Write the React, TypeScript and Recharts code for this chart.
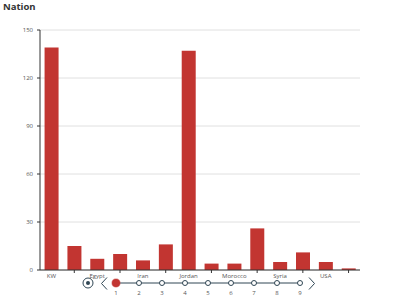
import React from 'react';
import { BarChart, Bar, XAxis, YAxis, CartesianGrid, LineChart, Line } from 'recharts';

const categories = ['KW', 'Bahrain', 'Egypt', 'France', 'Iran', 'Iraq', 'Jordan', 'Lebanon', 'Morocco', 'Palestine', 'Syria', 'Tunisia', 'USA', 'Yemen'];
const values = [139, 15, 7, 10, 6, 16, 137, 4, 4, 26, 5, 11, 5, 1];
const yTicks = [0, 30, 60, 90, 120, 150];
const timelineLabels = ['1', '2', '3', '4', '5', '6', '7', '8', '9'];
const currentTimelineIndex = 0;

const barData = categories.map((name, i) => ({ name, value: values[i] }));
const timelineData = timelineLabels.map((label) => ({ label, v: 0.5 }));

const FONT = '"Open Sans", "Noto Sans", sans-serif';
const BAR_COLOR = '#c23531';
const AXIS_COLOR = '#333';
const LABEL_COLOR = '#555';
const TL_COLOR = '#304654';
const X_TICK_SIZE = 3;
const X_TICK_MARGIN = 1;

const XTick = (props: any) => {
  const { x, y, payload, index } = props;
  if (index % 2 === 1) {
    return (
      <line x1={x} x2={x} y1={y - X_TICK_MARGIN - X_TICK_SIZE} y2={y - X_TICK_MARGIN} stroke={AXIS_COLOR} strokeWidth={1} />
    );
  }
  return (
    <text x={x} y={y} dy="0.71em" textAnchor="middle" fontSize={6} fill={LABEL_COLOR} fontFamily={FONT}>
      {payload.value}
    </text>
  );
};

const TimelineDot = (props: any) => {
  const { cx, cy, index } = props;
  if (index === currentTimelineIndex) {
    return <circle key={index} cx={cx} cy={cy} r={4} fill={BAR_COLOR} stroke={BAR_COLOR} strokeOpacity={0.4} strokeWidth={1.5} />;
  }
  return <circle key={index} cx={cx} cy={cy} r={2.5} fill="#fff" stroke={TL_COLOR} strokeWidth={1} />;
};

export default function App() {
  return (
    <div style={{ position: 'absolute', left: 0, top: 0, width: 400, height: 300, fontFamily: FONT }}>
      <div style={{ position: 'absolute', left: 0, top: 0 }}>
        <BarChart width={400} height={300} data={barData} margin={{ top: 30, right: 40, bottom: 10, left: 0 }} barCategoryGap="20%">
          <CartesianGrid vertical={false} stroke="#e0e0e0" />
          <XAxis
            dataKey="name"
            interval={0}
            height={20}
            tickLine={false}
            tickSize={X_TICK_SIZE}
            tickMargin={X_TICK_MARGIN}
            axisLine={{ stroke: AXIS_COLOR }}
            tick={<XTick />}
          />
          <YAxis
            width={40}
            domain={[0, 150]}
            ticks={yTicks}
            interval={0}
            tickSize={3}
            tickMargin={4}
            axisLine={{ stroke: AXIS_COLOR }}
            tickLine={{ stroke: AXIS_COLOR }}
            tick={{ fontSize: 6, fill: LABEL_COLOR, fontFamily: FONT }}
          />
          <Bar dataKey="value" fill={BAR_COLOR} isAnimationActive={false} />
        </BarChart>
      </div>
      <div style={{ position: 'absolute', left: 0, top: 270 }}>
        <LineChart width={400} height={30} data={timelineData} margin={{ top: 8, right: 100, bottom: 0, left: 116 }}>
          <XAxis
            dataKey="label"
            interval={0}
            height={12}
            axisLine={false}
            tickLine={false}
            tickSize={0}
            tickMargin={3}
            tick={{ fontSize: 6, fill: LABEL_COLOR, fontFamily: FONT }}
          />
          <YAxis hide domain={[0, 1]} />
          <Line dataKey="v" stroke={TL_COLOR} strokeWidth={1} dot={<TimelineDot />} isAnimationActive={false} />
        </LineChart>
      </div>
      <svg width={400} height={300} style={{ position: 'absolute', left: 0, top: 0, pointerEvents: 'none' }}>
        <text x={3} y={10} fontSize={9.5} fontWeight="bold" fill="#333" fontFamily={FONT}>Nation</text>
        <circle cx={88} cy={283} r={5} fill="none" stroke={TL_COLOR} strokeWidth={1} />
        <circle cx={88} cy={283} r={2} fill={TL_COLOR} />
        <polyline points="107,277.5 101.5,283.5 107,289.5" fill="none" stroke={TL_COLOR} strokeWidth={1} />
        <polyline points="309,277.5 314.5,283.5 309,289.5" fill="none" stroke={TL_COLOR} strokeWidth={1} />
      </svg>
    </div>
  );
}
